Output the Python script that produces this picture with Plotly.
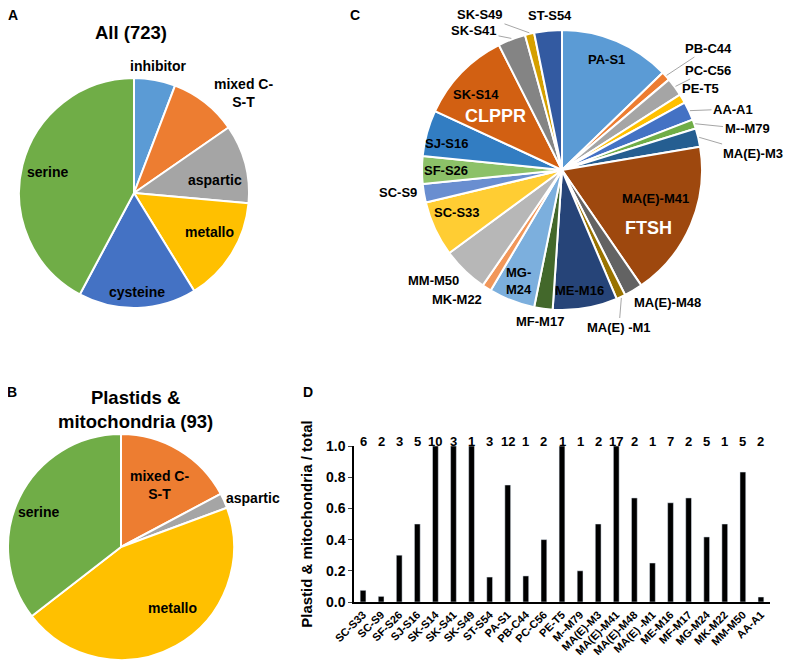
import math
import plotly.graph_objects as go

# panel A: all proteases
all_labels = ["inhibitor", "mixed C-<br>S-T", "aspartic", "metallo", "cysteine", "serine"]
all_counts = [42, 69, 80, 107, 120, 305]
all_colors = ["#5B9BD5", "#ED7D31", "#A5A5A5", "#FFC000", "#4472C4", "#70AD47"]

# panel B: plastids & mitochondria
pm_labels = ["mixed C-<br>S-T", "aspartic", "metallo", "serine"]
pm_counts = [16, 2, 42, 33]
pm_colors = ["#ED7D31", "#A5A5A5", "#FFC000", "#70AD47"]

# panel C: families (pie order, clockwise from top)
fam_labels = ["PA-S1", "PB-C44", "PC-C56", "PE-T5", "AA-A1", "M--M79", "MA(E)-M3",
              "MA(E)-M41", "MA(E)-M48", "MA(E) -M1", "ME-M16", "MF-M17", "MG-<br>M24",
              "MK-M22", "MM-M50", "SC-S33", "SC-S9", "SF-S26", "SJ-S16", "SK-S14",
              "SK-S41", "SK-S49", "ST-S54"]
fam_counts = [12, 1, 2, 1, 2, 1, 2, 17, 2, 1, 7, 2, 5, 1, 5, 6, 2, 3, 5, 10, 3, 1, 3]
fam_colors = ["#5B9BD5", "#ED7D31", "#A5A5A5", "#FFC000", "#4472C4", "#70AD47", "#255E91",
              "#9E480E", "#636363", "#997300", "#264478", "#43682B", "#7CAFDD",
              "#F1975A", "#B7B7B7", "#FFCD33", "#698ED0", "#8CC168", "#327DC2", "#D26012",
              "#848484", "#D5A000", "#335AA1"]

# panel D: ratio plastid & mitochondria / total
bar_labels = ["SC-S33", "SC-S9", "SF-S26", "SJ-S16", "SK-S14", "SK-S41", "SK-S49", "ST-S54",
              "PA-S1", "PB-C44", "PC-C56", "PE-T5", "M--M79", "MA(E)-M3", "MA(E)-M41",
              "MA(E)-M48", "MA(E) -M1", "ME-M16", "MF-M17", "MG-M24", "MK-M22", "MM-M50", "AA-A1"]
bar_ratio = [0.075, 0.036, 0.30, 0.50, 1.0, 1.0, 1.0, 0.16, 0.75, 0.167, 0.40, 1.0, 0.20,
             0.50, 1.0, 0.667, 0.25, 0.636, 0.667, 0.417, 0.50, 0.833, 0.032]
bar_counts = [6, 2, 3, 5, 10, 3, 1, 3, 12, 1, 2, 1, 1, 2, 17, 2, 1, 7, 2, 5, 1, 5, 2]

FONT = "Liberation Sans, Arial, sans-serif"
OFF = 8                      # page body margin
W, H = 793 - OFF, 668 - OFF


def px(x, y):
    return (x - OFF) / W, 1 - (y - OFF) / H


def dom(cx, cy, r):
    x0, y1 = px(cx - r, cy - r)
    x1, y0 = px(cx + r, cy + r)
    return dict(x=[max(x0, 0), min(x1, 1)], y=[max(y0, 0), min(y1, 1)])


def bold(size, color="black"):
    return dict(family=FONT, size=size, color=color, weight="bold")


def label(txt, x, y, size, color="black"):
    x, y = px(x, y)
    fig.add_annotation(text=txt, x=x, y=y, xref="paper", yref="paper", showarrow=False,
                       xanchor="center", yanchor="middle", font=bold(size, color))


PIE_A = (134, 193, 115)
PIE_B = (121, 547, 113)
PIE_C = (562, 170, 140)

fig = go.Figure()

for labs, vals, cols, geo in [(all_labels, all_counts, all_colors, PIE_A),
                              (pm_labels, pm_counts, pm_colors, PIE_B),
                              (fam_labels, fam_counts, fam_colors, PIE_C)]:
    fig.add_trace(go.Pie(
        labels=labs, values=vals, textinfo="none",
        marker=dict(colors=cols, line=dict(color="white", width=2)),
        sort=False, direction="clockwise", domain=dom(*geo),
        showlegend=False, hoverinfo="label+value",
    ))

fig.add_trace(go.Bar(
    x=bar_labels, y=bar_ratio, marker_color="black", width=0.32,
    showlegend=False, hoverinfo="x+y",
))
for lab, c in zip(bar_labels, bar_counts):
    fig.add_annotation(x=lab, y=1.09, xref="x", yref="y domain", text=str(c),
                       showarrow=False, font=bold(13))

fig.update_layout(
    width=W, height=H, margin=dict(l=0, r=0, t=0, b=0, autoexpand=False),
    showlegend=False, paper_bgcolor="white", plot_bgcolor="white",
    font=dict(family=FONT, color="black"),
    xaxis=dict(domain=[(354 - OFF) / W, (770 - OFF) / W], showline=True, linecolor="black",
               linewidth=2, ticks="", tickangle=-45, showgrid=False, zeroline=False,
               automargin=False, tickfont=bold(11)),
    yaxis=dict(domain=[px(0, 602)[1], px(0, 446)[1]], range=[0, 1], dtick=0.2,
               tickformat=".1f", showline=True, linecolor="black", linewidth=1.5,
               ticks="outside", ticklen=4, showgrid=False, zeroline=False, automargin=False,
               tickfont=bold(14),
               title=dict(text="Plastid & mitochondria / total", standoff=10, font=bold(15))),
)

# slice labels of panels A and B
pos_a = {"inhibitor": (158, 66), "mixed C-<br>S-T": (243, 93), "aspartic": (215, 180),
         "metallo": (209, 232), "cysteine": (137, 292), "serine": (47, 172)}
pos_b = {"mixed C-<br>S-T": (159, 485), "aspartic": (253, 498),
         "metallo": (172, 608), "serine": (38, 512)}
for lab in all_labels:
    label(lab, *pos_a[lab], 14)
for lab in pm_labels:
    label(lab, *pos_b[lab], 14)

# slice labels of panel C: text position, leader line
pos_c = {
    "PA-S1": (606, 60, False), "SK-S14": (476, 94, False), "SJ-S16": (446, 143, False),
    "SF-S26": (446, 170, False), "SC-S33": (457, 213, False), "MG-<br>M24": (519, 281, False),
    "ME-M16": (579, 291, False), "MA(E)-M41": (655, 199, False),
    "SK-S49": (480, 15, True), "SK-S41": (474, 31, True), "ST-S54": (550, 16, False),
    "PB-C44": (708, 48, True), "PC-C56": (708, 70, True), "PE-T5": (700, 89, False),
    "AA-A1": (733, 109, True), "M--M79": (747, 129, True), "MA(E)-M3": (753, 153, True),
    "MA(E)-M48": (667, 302, False), "MA(E) -M1": (619, 327, True), "MF-M17": (540, 321, False),
    "MK-M22": (457, 299, False), "MM-M50": (433, 281, False), "SC-S9": (398, 193, False),
}
total = sum(fam_counts)
cum = 0
cx, cy, r = PIE_C
for lab, v in zip(fam_labels, fam_counts):
    ang = 2 * math.pi * (cum + v / 2) / total
    cum += v
    tx, ty, line = pos_c[lab]
    if line:
        ex = cx + (r + 1) * math.sin(ang)
        ey = cy - (r + 1) * math.cos(ang)
        x, y = px(ex, ey)
        fig.add_annotation(text=lab, x=x, y=y, xref="paper", yref="paper", showarrow=True,
                           arrowhead=0, arrowwidth=1, arrowcolor="#A6A6A6",
                           ax=tx - ex, ay=ty - ey, font=bold(13))
    else:
        label(lab, tx, ty, 13)

for txt, x, y, s, c in [
    ("A", 13, 15, 14, "black"), ("B", 12, 392, 14, "black"),
    ("C", 355, 15, 14, "black"), ("D", 308, 392, 14, "black"),
    ("All (723)", 131, 33, 18.5, "black"),
    ("Plastids &<br>mitochondria (93)", 135, 409, 18.5, "black"),
    ("CLPPR", 495, 116, 18, "white"), ("FTSH", 648, 228, 18, "white"),
]:
    label(txt, x, y, s, c)

fig.write_html("out.html")
